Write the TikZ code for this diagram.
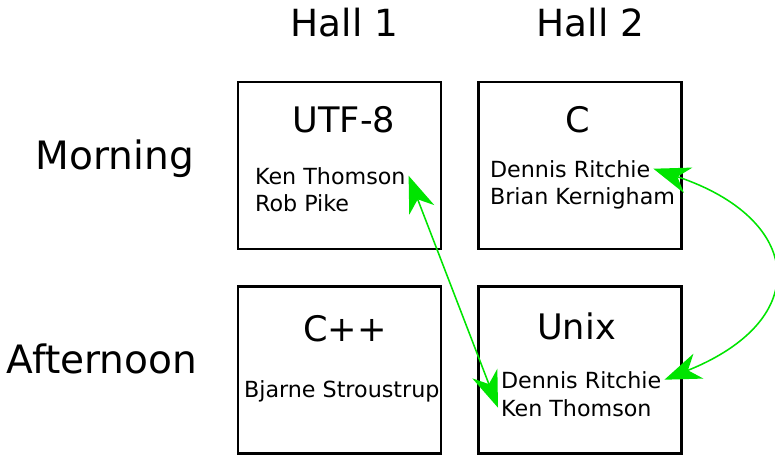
\documentclass[tikz,border=0pt]{standalone}
\usepackage{fontspec}
\setmainfont{DejaVu Sans}
\usetikzlibrary{arrows.meta,calc}
\definecolor{linkgreen}{RGB}{0,228,0}
\tikzset{
  room/.style={draw, line width=1.6pt, minimum width=5.075cm, minimum height=4.175cm, inner sep=0},
  hall/.style={anchor=base, font=\fontsize{26.6}{31}\selectfont},
  slot/.style={anchor=base, font=\fontsize{27.8}{32}\selectfont},
  talk/.style={anchor=base, font=\fontsize{25}{29}\selectfont},
  who/.style={anchor=base west, inner sep=2pt, font=\fontsize{15.8}{19}\selectfont},
  tip/.tip={Stealth[length=26pt,width=19pt,inset=8pt]},
  link/.style={draw=linkgreen, line width=1.1pt, tip-tip}
}

\begin{document}
\begin{tikzpicture}[x=0.025cm,y=-0.025cm]
\useasboundingbox (0,0) rectangle (775,454);

\node[hall](h1) at (344.5,36) {Hall 1};
\node[hall](h2) at (590.5,36) {Hall 2};
\node[slot](am) at (115,169) {Morning};
\node[slot](pm) at (102,373) {Afternoon};

\node[room](r11) at (339.5,165.5) {};
\node[room](r12) at (580,165.5) {};
\node[room](r21) at (339.5,370) {};
\node[room](r22) at (580,370) {};

\node[talk](t11) at (344,132) {UTF-8};
\node[talk](t12) at (578,132) {C};
\node[talk](t21) at (345,341) {C++};
\node[talk](t22) at (576.5,339) {Unix};

\node[who](kt1) at (252,184) {Ken Thomson};
\node[who](rp) at (252,211) {Rob Pike};
\node[who](dr1) at (487,177) {Dennis Ritchie};
\node[who](bk) at (487,204) {Brian Kernigham};
\node[who](bs) at (241,397) {Bjarne Stroustrup};
\node[who](dr2) at (498,388) {Dennis Ritchie};
\node[who](kt2) at (498,416) {Ken Thomson};

\draw[link] (kt1.east)--(kt2.west);
\draw[link] (dr1.east) .. controls ($(dr1.east)+(150,50)$) and ($(dr2.east)+(150,-60)$) .. (dr2.east);

\end{tikzpicture}
\end{document}
